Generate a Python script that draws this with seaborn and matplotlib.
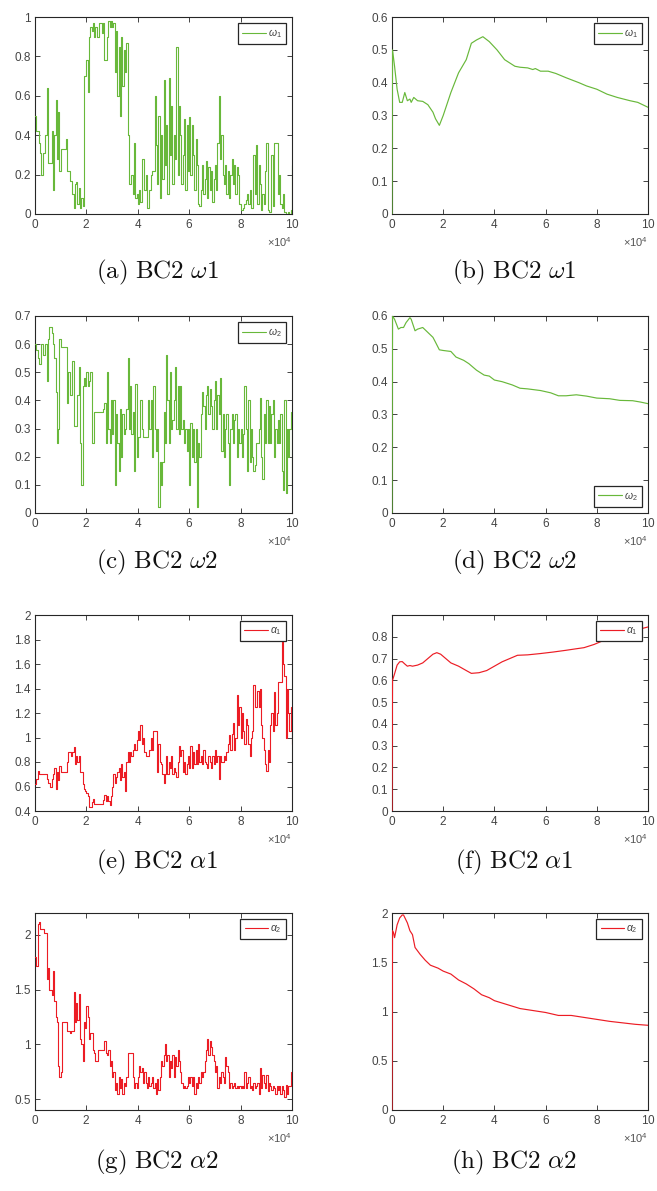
import numpy as np
import pandas as pd
import matplotlib
matplotlib.use("Agg")
import matplotlib.pyplot as plt
import seaborn as sns
from matplotlib.ticker import FuncFormatter

# ---------------- data ----------------
STEP = 500  # iteration spacing of the sampled traces

omega1_trace = [
    0.50, 0.42, 0.42, 0.36, 0.31, 0.20, 0.31, 0.31, 0.40, 0.64,
    0.26, 0.26, 0.26, 0.42, 0.12, 0.40, 0.58, 0.28, 0.52, 0.22,
    0.33, 0.33, 0.33, 0.33, 0.38, 0.22, 0.22, 0.17, 0.17, 0.10,
    0.03, 0.15, 0.16, 0.05, 0.13, 0.03, 0.08, 0.04, 0.70, 0.70,
    0.78, 0.62, 0.90, 0.95, 0.93, 0.97, 0.90, 0.95, 0.90, 0.90,
    0.97, 0.97, 0.92, 0.97, 0.78, 0.78, 0.90, 0.98, 0.95, 0.98,
    0.95, 0.97, 0.72, 0.93, 0.60, 0.85, 0.50, 0.90, 0.65, 0.83,
    0.72, 0.87, 0.40, 0.15, 0.15, 0.20, 0.10, 0.36, 0.08, 0.10,
    0.05, 0.12, 0.06, 0.28, 0.28, 0.12, 0.20, 0.03, 0.03, 0.12,
    0.20, 0.22, 0.22, 0.60, 0.35, 0.15, 0.50, 0.08, 0.40, 0.18,
    0.68, 0.25, 0.45, 0.10, 0.69, 0.30, 0.55, 0.15, 0.40, 0.28,
    0.85, 0.20, 0.55, 0.40, 0.15, 0.30, 0.48, 0.12, 0.45, 0.22,
    0.49, 0.20, 0.45, 0.30, 0.12, 0.38, 0.25, 0.05, 0.04, 0.12,
    0.25, 0.10, 0.18, 0.27, 0.08, 0.24, 0.12, 0.22, 0.06, 0.18,
    0.25, 0.12, 0.36, 0.60, 0.28, 0.40, 0.20, 0.15, 0.25, 0.10,
    0.22, 0.08, 0.20, 0.28, 0.15, 0.25, 0.10, 0.24, 0.20, 0.05,
    0.02, 0.02, 0.03, 0.05, 0.07, 0.10, 0.05, 0.12, 0.03, 0.03,
    0.30, 0.10, 0.35, 0.05, 0.25, 0.15, 0.02, 0.10, 0.05, 0.22,
    0.36, 0.02, 0.01, 0.01, 0.30, 0.04, 0.36, 0.36, 0.36, 0.10,
    0.20, 0.05, 0.03, 0.10, 0.01, 0.00, 0.00, 0.01, 0.00, 0.02,
    0.25,
]

omega2_trace = [
    0.60, 0.58, 0.55, 0.53, 0.53, 0.60, 0.56, 0.56, 0.60, 0.47,
    0.62, 0.66, 0.66, 0.64, 0.60, 0.55, 0.43, 0.25, 0.30, 0.62,
    0.59, 0.59, 0.59, 0.59, 0.59, 0.39, 0.50, 0.42, 0.42, 0.54,
    0.31, 0.31, 0.31, 0.42, 0.52, 0.25, 0.10, 0.45, 0.48, 0.45,
    0.50, 0.45, 0.47, 0.50, 0.25, 0.25, 0.36, 0.36, 0.36, 0.36,
    0.36, 0.36, 0.36, 0.37, 0.39, 0.25, 0.50, 0.30, 0.25, 0.40,
    0.28, 0.40, 0.10, 0.35, 0.25, 0.15, 0.37, 0.20, 0.35, 0.28,
    0.30, 0.37, 0.55, 0.30, 0.45, 0.28, 0.36, 0.15, 0.46, 0.20,
    0.27, 0.27, 0.40, 0.30, 0.27, 0.27, 0.27, 0.27, 0.40, 0.30,
    0.40, 0.20, 0.45, 0.30, 0.22, 0.30, 0.02, 0.18, 0.10, 0.18,
    0.36, 0.25, 0.56, 0.40, 0.25, 0.50, 0.30, 0.33, 0.40, 0.52,
    0.30, 0.45, 0.28, 0.45, 0.30, 0.33, 0.25, 0.30, 0.22, 0.30,
    0.10, 0.32, 0.20, 0.30, 0.18, 0.30, 0.02, 0.25, 0.20, 0.35,
    0.43, 0.38, 0.30, 0.42, 0.45, 0.35, 0.44, 0.38, 0.30, 0.40,
    0.47, 0.30, 0.42, 0.35, 0.48, 0.22, 0.35, 0.20, 0.30, 0.35,
    0.25, 0.10, 0.30, 0.35, 0.25, 0.33, 0.35, 0.20, 0.30, 0.25,
    0.30, 0.20, 0.28, 0.45, 0.30, 0.15, 0.40, 0.18, 0.30, 0.20,
    0.15, 0.17, 0.25, 0.25, 0.30, 0.41, 0.20, 0.12, 0.35, 0.25,
    0.40, 0.25, 0.38, 0.25, 0.35, 0.40, 0.20, 0.30, 0.25, 0.33,
    0.25, 0.35, 0.15, 0.08, 0.40, 0.07, 0.30, 0.20, 0.30, 0.36,
    0.10,
]

alpha1_trace = [
    0.62, 0.66, 0.73, 0.70, 0.70, 0.70, 0.70, 0.70, 0.70, 0.66,
    0.63, 0.63, 0.60, 0.66, 0.70, 0.75, 0.58, 0.72, 0.65, 0.77,
    0.72, 0.72, 0.72, 0.72, 0.72, 0.80, 0.88, 0.88, 0.85, 0.88,
    0.92, 0.78, 0.85, 0.80, 0.85, 0.72, 0.72, 0.62, 0.58, 0.56,
    0.55, 0.52, 0.43, 0.43, 0.47, 0.50, 0.46, 0.46, 0.46, 0.46,
    0.46, 0.46, 0.46, 0.49, 0.53, 0.48, 0.52, 0.48, 0.45, 0.52,
    0.60, 0.70, 0.63, 0.68, 0.72, 0.75, 0.65, 0.78, 0.68, 0.72,
    0.56, 0.80, 0.88, 0.80, 0.88, 0.85, 0.90, 0.95, 0.90, 0.98,
    1.05, 0.98, 1.10, 0.95, 1.00, 0.88, 0.85, 0.85, 0.85, 0.90,
    1.00, 0.90, 1.05, 1.05, 1.05, 0.72, 0.95, 0.80, 0.78, 0.70,
    0.63, 0.70, 0.85, 0.70, 0.80, 0.75, 0.85, 0.70, 0.75, 0.72,
    0.68, 0.80, 0.93, 0.85, 0.90, 0.72, 0.80, 0.70, 0.78, 0.85,
    0.75, 0.93, 0.75, 0.88, 0.78, 0.90, 0.78, 0.95, 0.80, 0.85,
    0.78, 0.90, 0.80, 0.78, 0.75, 0.85, 0.80, 0.75, 0.85, 0.78,
    0.90, 0.80, 0.85, 0.66, 0.85, 0.80, 0.80, 0.85, 0.82, 0.88,
    0.95, 1.02, 0.90, 1.03, 1.12, 0.90, 1.00, 1.35, 1.10, 1.25,
    1.00, 1.20, 1.05, 0.95, 1.15, 1.10, 0.95, 0.85, 1.00, 1.05,
    1.43, 1.25, 1.25, 1.38, 1.25, 1.40, 1.10, 1.00, 0.90, 0.78,
    0.73, 0.90, 0.80, 1.10, 1.20, 1.05, 1.37, 1.10, 1.20, 1.45,
    1.45, 1.45, 1.80, 1.60, 1.50, 1.00, 1.40, 1.20, 1.05, 1.25,
    0.95,
]

alpha2_trace = [
    1.80, 1.72, 2.10, 2.12, 2.05, 2.05, 2.05, 2.02, 2.02, 1.60,
    1.70, 1.50, 1.50, 1.45, 1.67, 1.40, 1.25, 1.20, 0.80, 0.70,
    0.75, 1.20, 1.20, 1.20, 1.20, 1.12, 1.12, 1.10, 1.12, 1.12,
    1.48, 1.20, 1.38, 1.22, 1.46, 1.05, 1.00, 0.85, 1.20, 1.15,
    1.35, 1.25, 1.05, 1.10, 1.10, 0.95, 0.92, 0.85, 0.85, 0.95,
    0.95, 0.95, 0.95, 0.95, 1.03, 0.92, 0.90, 0.95, 0.80, 0.85,
    0.70, 0.75, 0.58, 0.65, 0.55, 0.70, 0.60, 0.68, 0.55, 0.65,
    0.62, 0.70, 0.92, 0.92, 0.92, 0.92, 0.70, 0.60, 0.65, 0.60,
    0.70, 0.80, 0.75, 0.78, 0.65, 0.75, 0.65, 0.60, 0.70, 0.62,
    0.65, 0.70, 0.60, 0.65, 0.55, 0.68, 0.58, 0.70, 0.85, 0.80,
    0.90, 1.00, 0.85, 0.90, 0.70, 0.85, 0.78, 0.90, 0.70, 0.88,
    0.80, 0.95, 0.85, 0.75, 0.65, 0.60, 0.62, 0.60, 0.62, 0.70,
    0.65, 0.70, 0.62, 0.70, 0.55, 0.65, 0.60, 0.70, 0.65, 0.75,
    0.70, 0.75, 0.85, 0.95, 1.05, 0.90, 1.03, 0.98, 0.90, 0.85,
    0.75, 0.80, 0.60, 0.70, 0.65, 0.75, 0.70, 0.65, 0.88, 0.80,
    0.75, 0.60, 0.65, 0.60, 0.62, 0.65, 0.60, 0.62, 0.60, 0.62,
    0.60, 0.62, 0.60, 0.75, 0.60, 0.65, 0.70, 0.60, 0.62, 0.58,
    0.65, 0.60, 0.62, 0.65, 0.55, 0.78, 0.60, 0.72, 0.65, 0.60,
    0.72, 0.57, 0.65, 0.62, 0.58, 0.62, 0.60, 0.55, 0.62, 0.58,
    0.62, 0.55, 0.62, 0.58, 0.52, 0.63, 0.55, 0.62, 0.62, 0.75,
    0.65,
]

# running averages (x in units of 10^4 iterations)
omega1_avg_x = [0, 0.02, 0.1, 0.2, 0.3, 0.4, 0.5, 0.6, 0.7, 0.75, 0.85, 1.0, 1.2, 1.4,
                1.6, 1.7, 1.85, 2.0, 2.3, 2.6, 2.9, 3.1, 3.3, 3.55, 3.8, 4.1, 4.4,
                4.8, 5.0, 5.3, 5.5, 5.6, 5.8, 6.1, 6.4, 6.8, 7.3, 7.6, 8.0, 8.4,
                8.8, 9.3, 9.6, 10.0]
omega1_avg = [0.0, 0.50, 0.45, 0.38, 0.34, 0.34, 0.37, 0.345, 0.35, 0.34, 0.355, 0.345,
              0.343, 0.333, 0.31, 0.29, 0.27, 0.30, 0.37, 0.43, 0.47, 0.52, 0.53,
              0.54, 0.525, 0.50, 0.47, 0.45, 0.447, 0.445, 0.44, 0.443, 0.435,
              0.435, 0.428, 0.415, 0.40, 0.39, 0.38, 0.365, 0.355, 0.345, 0.34, 0.325]

omega2_avg_x = [0, 0.02, 0.1, 0.25, 0.35, 0.45, 0.55, 0.7, 0.75, 0.9, 1.0, 1.2, 1.4,
                1.6, 1.7, 1.85, 2.0, 2.3, 2.5, 2.8, 3.0, 3.3, 3.6, 3.8, 4.0, 4.3,
                4.7, 5.0, 5.3, 5.8, 6.2, 6.5, 6.8, 7.2, 7.6, 8.0, 8.5, 8.9, 9.4,
                9.7, 10.0]
omega2_avg = [0.0, 0.60, 0.59, 0.56, 0.565, 0.565, 0.58, 0.595, 0.59, 0.555, 0.56,
              0.565, 0.55, 0.535, 0.52, 0.497, 0.495, 0.492, 0.475, 0.465, 0.455,
              0.435, 0.42, 0.417, 0.405, 0.40, 0.39, 0.38, 0.378, 0.373, 0.366,
              0.357, 0.357, 0.36, 0.356, 0.35, 0.348, 0.343, 0.342, 0.338, 0.333]

alpha1_avg_x = [0, 0.02, 0.1, 0.2, 0.3, 0.4, 0.5, 0.6, 0.7, 0.8, 1.0, 1.2, 1.4, 1.6,
                1.75, 1.9, 2.1, 2.3, 2.6, 2.9, 3.1, 3.4, 3.7, 4.0, 4.3, 4.6, 4.9,
                5.3, 5.8, 6.3, 6.8, 7.2, 7.5, 7.9, 8.3, 8.8, 9.2, 9.5, 10.0]
alpha1_avg = [0.0, 0.60, 0.63, 0.67, 0.685, 0.686, 0.675, 0.665, 0.668, 0.665, 0.67,
              0.68, 0.70, 0.72, 0.727, 0.72, 0.70, 0.68, 0.665, 0.645, 0.632,
              0.635, 0.645, 0.665, 0.685, 0.70, 0.715, 0.717, 0.723, 0.73, 0.738,
              0.745, 0.75, 0.765, 0.785, 0.80, 0.815, 0.83, 0.845]

alpha2_avg_x = [0, 0.02, 0.06, 0.1, 0.2, 0.3, 0.4, 0.45, 0.6, 0.7, 0.8, 0.9, 1.1,
                1.3, 1.5, 1.8, 2.0, 2.3, 2.6, 2.9, 3.2, 3.5, 3.8, 4.0, 4.5, 5.0,
                5.5, 6.0, 6.5, 7.0, 7.5, 8.0, 8.5, 9.0, 9.5, 10.0]
alpha2_avg = [0.0, 1.82, 1.80, 1.75, 1.88, 1.95, 1.98, 1.98, 1.90, 1.82, 1.78, 1.65,
              1.58, 1.52, 1.47, 1.44, 1.41, 1.38, 1.32, 1.28, 1.23, 1.17, 1.14,
              1.11, 1.07, 1.03, 1.01, 0.99, 0.96, 0.96, 0.94, 0.92, 0.90, 0.885,
              0.87, 0.86]

captions = ["(a)", "(b)", "(c)", "(d)", "(e)", "(f)", "(g)", "(h)"]
caption_sym = [r"\omega1", r"\omega1", r"\omega2", r"\omega2",
               r"\alpha1", r"\alpha1", r"\alpha2", r"\alpha2"]
legend_labels = [r"$\omega_1$", r"$\omega_1$", r"$\omega_2$", r"$\omega_2$",
                 r"$\alpha_1$", r"$\alpha_1$", r"$\alpha_2$", r"$\alpha_2$"]

GREEN = "#68B83A"
RED = "#EC1C24"

# ---------------- style ----------------
sns.set_theme(style="white")
plt.rcParams.update({
    "font.family": ["Liberation Sans", "DejaVu Sans"],
    "mathtext.fontset": "custom",
    "mathtext.rm": "Liberation Sans",
    "mathtext.it": "Liberation Sans:italic",
    "axes.edgecolor": "#262626",
    "axes.linewidth": 0.8,
    "xtick.direction": "in",
    "ytick.direction": "in",
    "xtick.top": True,
    "ytick.right": True,
    "xtick.bottom": True,
    "ytick.left": True,
    "xtick.major.size": 3.5,
    "ytick.major.size": 3.5,
    "xtick.major.width": 0.6,
    "ytick.major.width": 0.6,
    "xtick.color": "#262626",
    "ytick.color": "#262626",
    "xtick.labelcolor": "#444444",
    "ytick.labelcolor": "#444444",
    "xtick.labelsize": 8.5,
    "ytick.labelsize": 8.5,
    "xtick.major.pad": 3.0,
    "ytick.major.pad": 3.0,
})

fig = plt.figure(figsize=(6.57, 11.91), dpi=100)
W, H = 657.0, 1191.0

col_px = [(35, 292), (392, 648)]
row_px = [(17, 214), (316, 513), (615, 811), (913, 1110)]
caption_y_px = [272, 562, 862, 1162]
caption_x_px = [157, 514]


def make_ax(r, c):
    x0, x1 = col_px[c]
    y0, y1 = row_px[r]
    return fig.add_axes([x0 / W, 1 - y1 / H, (x1 - x0) / W, (y1 - y0) / H])


panels = [
    (omega1_trace, None, GREEN, (0, 1.0), [0, 0.2, 0.4, 0.6, 0.8, 1.0], "upper right"),
    (omega1_avg, omega1_avg_x, GREEN, (0, 0.6), [0, 0.1, 0.2, 0.3, 0.4, 0.5, 0.6], "upper right"),
    (omega2_trace, None, GREEN, (0, 0.7), [0, 0.1, 0.2, 0.3, 0.4, 0.5, 0.6, 0.7], "upper right"),
    (omega2_avg, omega2_avg_x, GREEN, (0, 0.6), [0, 0.1, 0.2, 0.3, 0.4, 0.5, 0.6], "lower right"),
    (alpha1_trace, None, RED, (0.4, 2.0), [0.4, 0.6, 0.8, 1.0, 1.2, 1.4, 1.6, 1.8, 2.0], "upper right"),
    (alpha1_avg, alpha1_avg_x, RED, (0, 0.9), [0, 0.1, 0.2, 0.3, 0.4, 0.5, 0.6, 0.7, 0.8], "upper right"),
    (alpha2_trace, None, RED, (0.4, 2.2), [0.5, 1.0, 1.5, 2.0], "upper right"),
    (alpha2_avg, alpha2_avg_x, RED, (0, 2.0), [0, 0.5, 1.0, 1.5, 2.0], "upper right"),
]

fmt = FuncFormatter(lambda v, p: "%g" % round(v, 6))

for i, (vals, xs, color, ylim, yticks, loc) in enumerate(panels):
    r, c = divmod(i, 2)
    ax = make_ax(r, c)
    if xs is None:
        x = np.arange(len(vals)) * STEP
        df = pd.DataFrame({"iter": x, "val": vals})
        sns.lineplot(data=df, x="iter", y="val", ax=ax, color=color, linewidth=0.8,
                     drawstyle="steps-post", estimator=None, errorbar=None,
                     label=legend_labels[i], zorder=3)
    else:
        df = pd.DataFrame({"iter": np.asarray(xs) * 1e4, "val": vals})
        sns.lineplot(data=df, x="iter", y="val", ax=ax, color=color, linewidth=0.85,
                     estimator=None, errorbar=None, label=legend_labels[i], zorder=3)
    ax.set_xlim(0, 100000)
    ax.set_ylim(*ylim)
    ax.set_xticks([0, 20000, 40000, 60000, 80000, 100000])
    ax.set_yticks(yticks)
    ax.yaxis.set_major_formatter(fmt)
    ax.ticklabel_format(axis="x", style="sci", scilimits=(4, 4), useMathText=True)
    off = ax.xaxis.get_offset_text()
    off.set_fontsize(8)
    off.set_color("#555555")
    ax.set_xlabel("")
    ax.set_ylabel("")
    for s in ax.spines.values():
        s.set_visible(True)
        s.set_color("#262626")
        s.set_linewidth(0.8)
    leg = ax.legend(loc=loc, fontsize=7.5, frameon=True, fancybox=False,
                    edgecolor="#262626", framealpha=1, borderpad=0.4,
                    handlelength=2.3, handletextpad=0.15, borderaxespad=0.6)
    leg.get_frame().set_linewidth(0.9)
    for t in leg.get_texts():
        t.set_color("#444444")

    fig.text(caption_x_px[c] / W, 1 - caption_y_px[r] / H,
             r"$\mathrm{%s\ BC2}\ %s$" % (captions[i], caption_sym[i]),
             ha="center", va="center", fontsize=18, math_fontfamily="cm",
             color="#111111")

fig.savefig("out.png", dpi=100)
